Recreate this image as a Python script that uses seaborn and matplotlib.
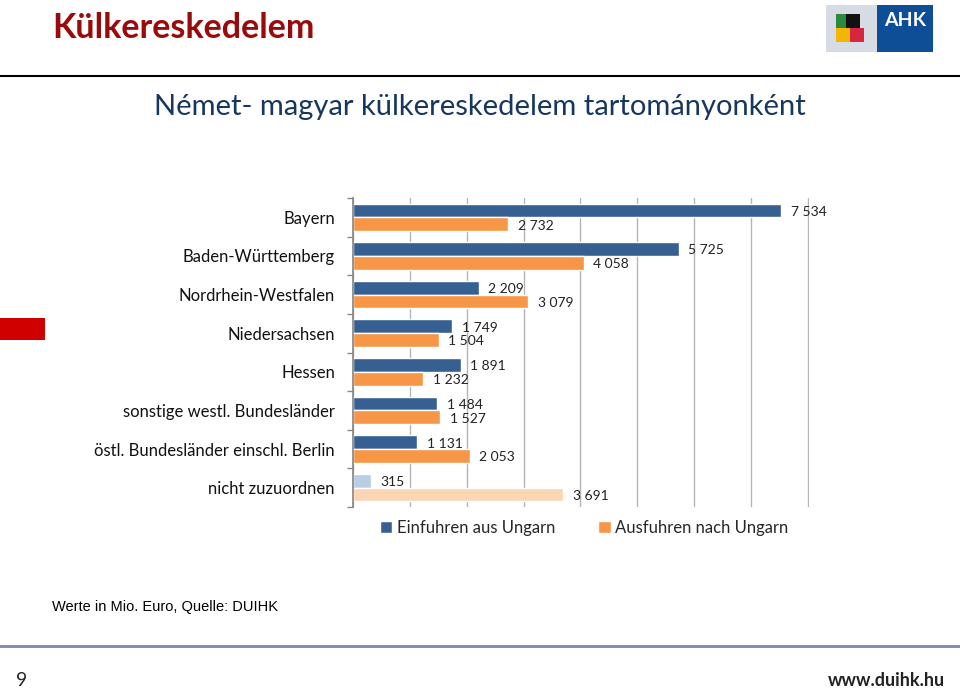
import numpy as np
import pandas as pd
import matplotlib
matplotlib.use('Agg')
import matplotlib.pyplot as plt
import seaborn as sns
from matplotlib.patches import Rectangle, Patch
from matplotlib.lines import Line2D

# Data: German-Hungarian foreign trade by federal state (Mio. Euro)
CATEGORIES = ['Bayern', 'Baden-Württemberg', 'Nordrhein-Westfalen', 'Niedersachsen',
              'Hessen', 'sonstige westl. Bundesländer',
              'östl. Bundesländer einschl. Berlin', 'nicht zuzuordnen']
EINFUHREN = [7534, 5725, 2209, 1749, 1891, 1484, 1131, 315]
AUSFUHREN = [2732, 4058, 3079, 1504, 1232, 1527, 2053, 3691]
SERIES = ['Einfuhren aus Ungarn', 'Ausfuhren nach Ungarn']

BLUE, ORANGE = '#376092', '#f79646'
BLUE_LIGHT, ORANGE_LIGHT = '#b9cde5', '#fcd5b5'

df = pd.DataFrame({
    'Land': CATEGORIES * 2,
    'Wert': EINFUHREN + AUSFUHREN,
    'Serie': [SERIES[0]] * len(CATEGORIES) + [SERIES[1]] * len(CATEGORIES),
})

sns.set_theme(style='white')
plt.rcParams['font.family'] = ['Lato', 'DejaVu Sans']

fig = plt.figure(figsize=(9.6, 6.89), dpi=100)
ax = fig.add_axes([353 / 960, 1 - 507 / 689, 456 / 960, 309 / 689])

sns.barplot(data=df, y='Land', x='Wert', hue='Serie', orient='h',
            palette=[BLUE, ORANGE], width=0.71, ax=ax, legend=False,
            saturation=1)

# last category ("nicht zuzuordnen") drawn in lighter shades
for cont, light in zip(ax.containers, [BLUE_LIGHT, ORANGE_LIGHT]):
    cont.patches[-1].set_facecolor(light)

# value labels with thin-space thousands separator
for cont in ax.containers:
    for bar in cont.patches:
        w = bar.get_width()
        txt = f"{int(w):,}".replace(',', ' ')
        ax.annotate(txt, (w, bar.get_y() + bar.get_height() / 2),
                    xytext=(7, -1), textcoords='offset points',
                    ha='left', va='center', fontsize=10, color='#222222')

ax.set_xlim(0, 8020)
ax.set_ylim(7.5, -0.5)
ax.set_xticks(np.arange(0, 8001, 1000))
ax.set_xticklabels([])
ax.xaxis.grid(True, color='#b4b4b4', lw=1)
ax.tick_params(axis='x', length=0)
ax.set_xlabel('')
ax.set_ylabel('')

ax.set_yticks(range(len(CATEGORIES)))
ax.set_yticklabels(CATEGORIES, fontsize=12, color='#111111')
ax.set_yticks(np.arange(-0.5, len(CATEGORIES), 1), minor=True)
ax.tick_params(axis='y', which='major', length=0, pad=13)
ax.tick_params(axis='y', which='minor', length=4, width=1, color='#888888',
               direction='out', left=True)
for s in ['top', 'right', 'bottom']:
    ax.spines[s].set_visible(False)
ax.spines['left'].set_color('#888888')

handles = [Patch(facecolor=BLUE), Patch(facecolor=ORANGE)]
fig.legend(handles, SERIES, loc='center', bbox_to_anchor=(584 / 960, 1 - 528 / 689),
           ncol=2, frameon=False, fontsize=12, handlelength=0.75, handleheight=0.75,
           handletextpad=0.25, columnspacing=2.6)

# header
fig.text(52 / 960, 1 - 28 / 689, 'Külkereskedelem', fontsize=24.5, fontweight='bold',
         color='#9b0a0a', ha='left', va='center')
fig.add_artist(Line2D([0, 1], [1 - 76 / 689] * 2, color='black', lw=1.5))
fig.text(480 / 960, 1 - 107 / 689, 'Német- magyar külkereskedelem tartományonként',
         fontsize=21, color='#17375e', ha='center', va='center')

# red marker on the left
fig.add_artist(Rectangle((0, 1 - 340 / 689), 45 / 960, 22 / 689,
                         transform=fig.transFigure, color='#d00000', lw=0))

# AHK logo (simplified)
fig.add_artist(Rectangle((826 / 960, 1 - 52 / 689), 52 / 960, 47 / 689,
                         transform=fig.transFigure, color='#d6dbe4', lw=0))
fig.add_artist(Rectangle((877 / 960, 1 - 52 / 689), 56 / 960, 47 / 689,
                         transform=fig.transFigure, color='#0e4e96', lw=0))
for (x0, y0, c) in [(836, 14, '#2b8a3e'), (846, 14, '#111111'),
                    (836, 28, '#f2b705'), (850, 28, '#d7263d')]:
    fig.add_artist(Rectangle((x0 / 960, 1 - (y0 + 14) / 689), 14 / 960, 14 / 689,
                             transform=fig.transFigure, color=c, lw=0))
fig.text(905 / 960, 1 - 20 / 689, 'AHK', fontsize=14, fontweight='bold',
         color='white', ha='center', va='center')

# footer
fig.text(52 / 960, 1 - 607 / 689, 'Werte in Mio. Euro, Quelle: DUIHK', fontsize=10.5,
         family=['Liberation Sans', 'DejaVu Sans'], ha='left', va='center', color='black')
fig.add_artist(Line2D([0, 1], [1 - 646 / 689] * 2, color='#7f86a8', lw=2))
fig.text(22 / 960, 1 - 680 / 689, '9', fontsize=14, ha='center', va='center')
fig.text(945 / 960, 1 - 680 / 689, 'www.duihk.hu', fontsize=13, fontweight='bold',
         ha='right', va='center', color='#222222')

fig.savefig('out.png', dpi=100, facecolor='white')
